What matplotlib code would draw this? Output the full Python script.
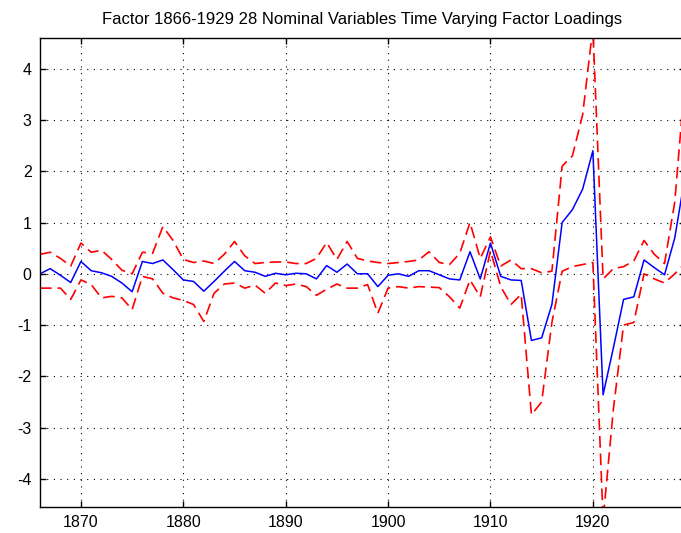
"""
Time varying factor loading with error bands, 1866-1929.
"""
import numpy as np
import matplotlib
matplotlib.use('Agg')
import matplotlib.pyplot as plt

years = np.arange(1866, 1930)

loading = [
    0.00, 0.10, -0.03, -0.17, 0.24, 0.06, 0.02, -0.05, -0.18, -0.35,
    0.24, 0.20, 0.27, 0.08, -0.12, -0.15, -0.34, -0.15, 0.05, 0.24,
    0.06, 0.03, -0.05, 0.01, -0.02, 0.01, 0.00, -0.10, 0.16, 0.03,
    0.19, 0.00, 0.00, -0.25, -0.03, 0.00, -0.05, 0.06, 0.06, -0.02,
    -0.10, -0.12, 0.43, -0.10, 0.60, -0.05, -0.12, -0.13, -1.30, -1.25,
    -0.60, 1.00, 1.25, 1.65, 2.40, -2.36, -1.45, -0.50, -0.45, 0.27,
    0.12, -0.02, 0.70, 1.90,
]

upper = [
    0.38, 0.42, 0.30, 0.15, 0.60, 0.42, 0.46, 0.28, 0.07, 0.00,
    0.42, 0.40, 0.92, 0.65, 0.28, 0.22, 0.25, 0.20, 0.38, 0.63,
    0.35, 0.20, 0.22, 0.23, 0.23, 0.20, 0.20, 0.30, 0.61, 0.28,
    0.63, 0.30, 0.25, 0.22, 0.20, 0.22, 0.24, 0.27, 0.43, 0.22,
    0.18, 0.40, 1.00, 0.30, 0.72, 0.15, 0.27, 0.10, 0.10, 0.02,
    0.05, 2.10, 2.30, 3.10, 4.80, -0.10, 0.10, 0.14, 0.25, 0.65,
    0.38, 0.20, 1.40, 3.80,
]

lower = [
    -0.28, -0.28, -0.28, -0.50, -0.12, -0.21, -0.47, -0.44, -0.47, -0.70,
    -0.05, -0.10, -0.38, -0.47, -0.52, -0.60, -0.93, -0.38, -0.20, -0.18,
    -0.28, -0.22, -0.38, -0.18, -0.23, -0.20, -0.25, -0.42, -0.30, -0.20,
    -0.28, -0.28, -0.21, -0.77, -0.28, -0.25, -0.28, -0.25, -0.26, -0.27,
    -0.45, -0.67, -0.12, -0.45, 0.45, -0.25, -0.60, -0.40, -2.75, -2.50,
    -0.95, 0.05, 0.14, 0.18, 0.22, -4.80, -2.65, -1.00, -0.95, 0.00,
    -0.10, -0.18, 0.00, 0.20,
]

x_ticks = [1870, 1880, 1890, 1900, 1910, 1920]
y_ticks = [-4, -3, -2, -1, 0, 1, 2, 3, 4]

plt.rcParams['font.family'] = ['Liberation Sans', 'DejaVu Sans']
plt.rcParams['axes.unicode_minus'] = False

fig = plt.figure(figsize=(6.81, 5.33), dpi=100)
# axes runs slightly past the right edge, as in the original export
ax = fig.add_axes([40 / 681, 26 / 533, 645 / 681, 469 / 533])

ax.plot(years, upper, color='#ff0000', linewidth=1.2, dashes=(7, 3.5))
ax.plot(years, lower, color='#ff0000', linewidth=1.2, dashes=(7, 3.5))
ax.plot(years, loading, color='#0000ff', linewidth=1.1)

ax.set_xlim(1866, 1929)
ax.set_ylim(-4.55, 4.6)
ax.set_xticks(x_ticks)
ax.set_yticks(y_ticks)
ax.grid(True, color='black', linestyle=(0, (1, 5)), linewidth=0.8)

ax.tick_params(direction='in', top=True, right=True, length=4,
               width=1.0, labelsize=11.5, pad=6)
for spine in ax.spines.values():
    spine.set_linewidth(1.0)

ax.set_title('Factor 1866-1929 28 Nominal Variables Time Varying Factor Loadings',
             fontsize=12, pad=10)

fig.savefig('out.png', dpi=100)
plt.close(fig)
